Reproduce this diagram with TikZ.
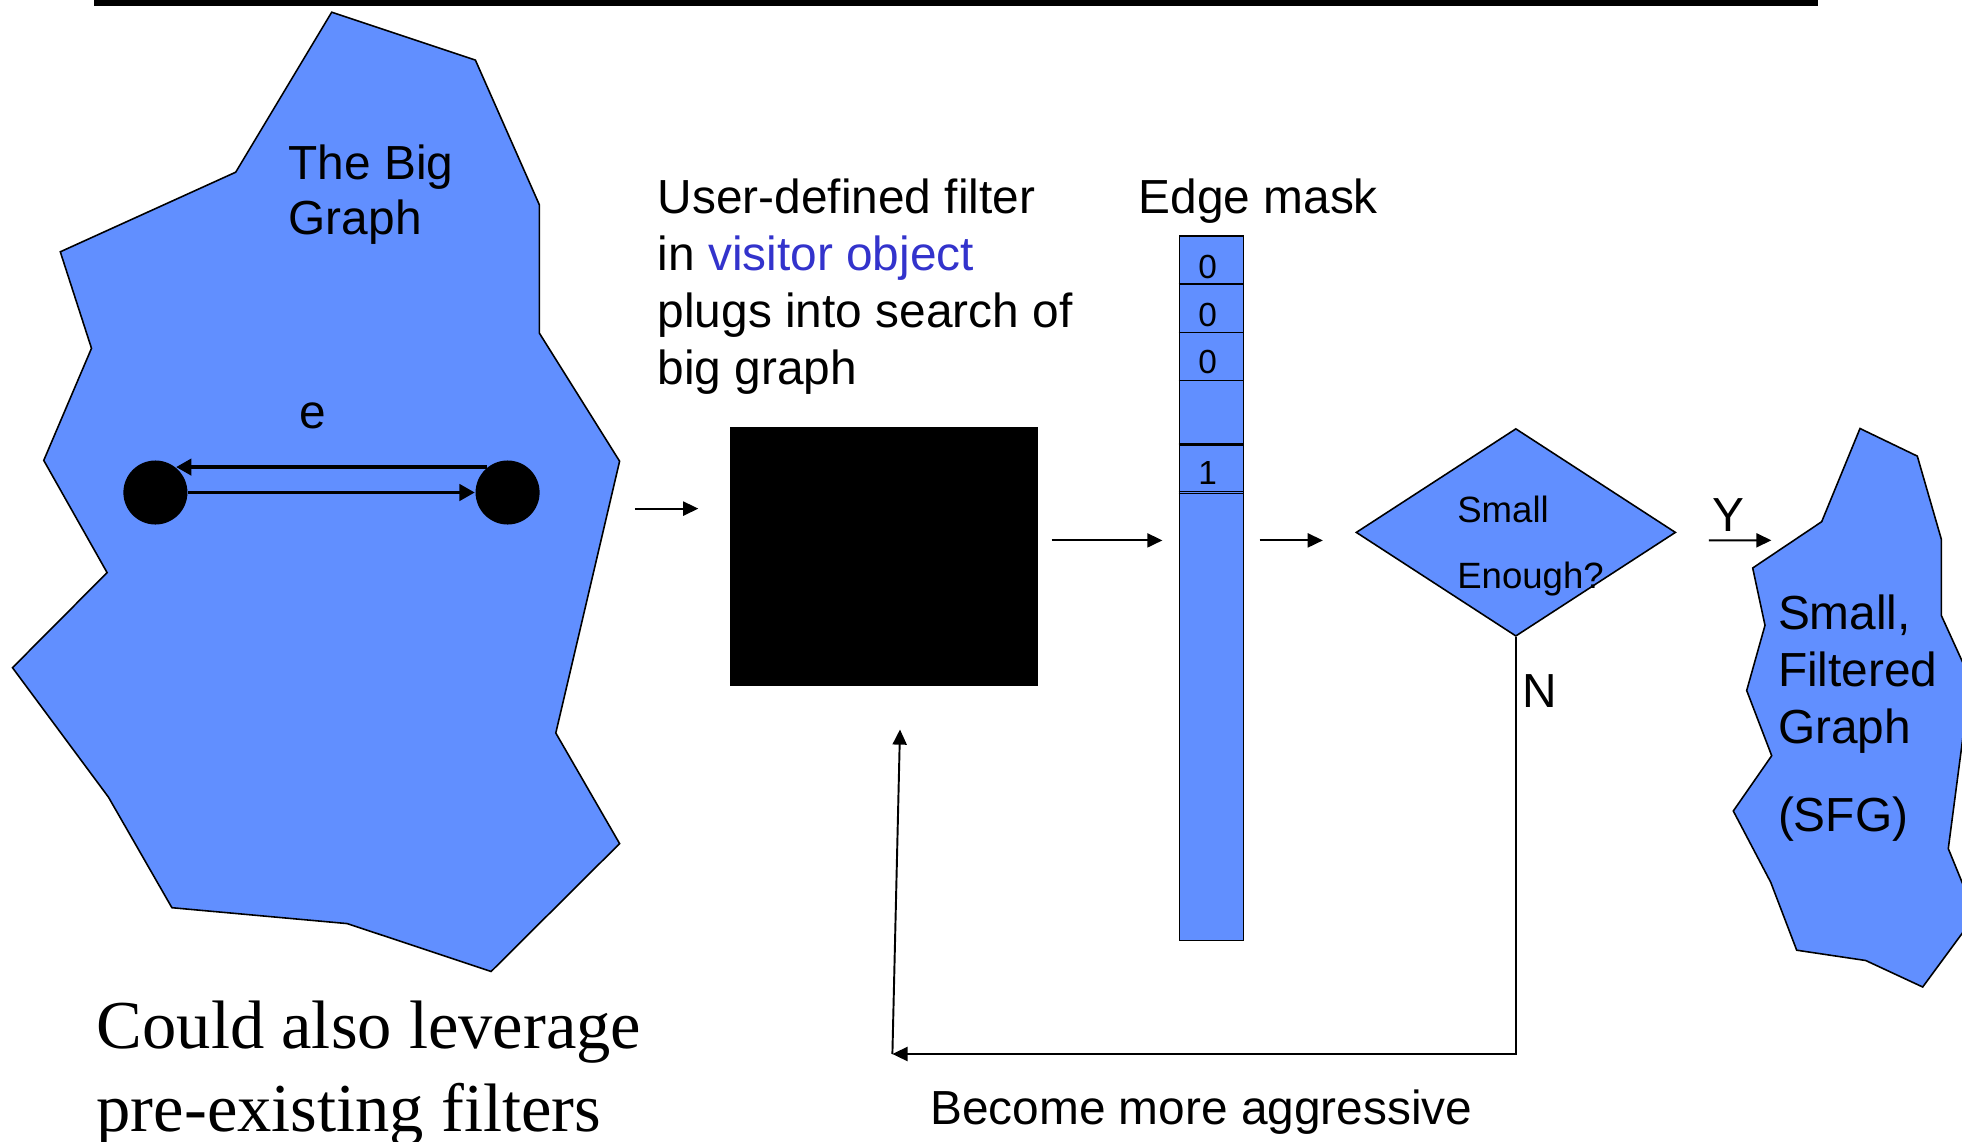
\documentclass[tikz,border=0pt]{standalone}
\usepackage{fontspec}
\setmainfont{Liberation Sans}
\newfontfamily\serifrm{Liberation Serif}
\usetikzlibrary{shapes.geometric,arrows.meta}
\definecolor{graphblue}{RGB}{97,143,255}
\definecolor{visitor}{RGB}{51,51,204}
\tikzset{
  blob/.style={fill=graphblue, draw=black, line width=0.45pt, line join=miter},
  % multi-line labels are placed by the baseline of their last line
  lbl/.style={inner sep=0pt, anchor=base west, align=left,
              font=\fontsize{13.6}{16.2}\selectfont},
  flow/.style={draw=black, line width=0.55pt, -{Triangle[length=4.3pt,width=4pt]}},
  edgearrow/.style={line width=1.1pt, -{Triangle[length=4.4pt,width=4.6pt]}},
  vertex/.style={circle, fill=black, inner sep=0pt, minimum size=0.64cm},
  cellnum/.style={inner sep=0pt, font=\fontsize{9.5}{11}\selectfont},
  divider/.style={draw=black, line width=0.4pt},
}
\begin{document}
\begin{tikzpicture}[x=0.01cm, y=-0.01cm]
\useasboundingbox (0,0) rectangle (1962,1142);
\clip (0,0) rectangle (1962,1142);

% title rule
\fill[black] (94,0) rectangle (1818,5.5);

% the big graph
\draw[blob] (331.7,12.2) -- (475.4,60.1) -- (539.3,204.7) -- (539.3,333)
  -- (619.6,461.2) -- (555.8,733) -- (619.6,843.6) -- (491.1,971.5)
  -- (347.3,923.6) -- (171.9,907.7) -- (108.5,797.2) -- (12.5,667.7)
  -- (107.1,572.6) -- (43.75,460.4) -- (91.5,348.3) -- (60.3,251.8)
  -- (235.7,172.2) -- cycle;
\node[lbl, font=\fontsize{13.6}{15.4}\selectfont] (bigtitle) at (288,234) {The Big\\Graph};
\node[inner sep=0pt, anchor=base, font=\fontsize{13.6}{16}\selectfont] (elabel) at (313,428) {e};
\node[vertex] (u) at (155.4,492.5) {};
\node[vertex] (v) at (507.6,492.5) {};
\draw[edgearrow] (v.129) -- (u.51);
\draw[edgearrow] (u.east) -- (v.west);

% filter box
\node[lbl] (filtertext) at (657,384)
  {User-defined filter\\in \textcolor{visitor}{visitor object}\\plugs into search of\\big graph};
\node[fill=black, draw=none, inner sep=0pt, minimum width=3.071cm, minimum height=2.583cm]
  (box) at (883.95,556.65) {};
\coordinate (gout) at (634.8,508.6);
\draw[flow, shorten >=8.9pt] (gout) -- (gout -| box.west);

% edge mask
\node[lbl] (masktitle) at (1138,213) {Edge mask};
\node[draw=black, fill=graphblue, line width=0.4pt, inner sep=0pt,
      minimum width=0.64cm, minimum height=7.04cm] (mask) at (1211.3,588) {};
\foreach \yy in {284,332.3,380.7,443.3,445,491.7,493.3}
  \draw[divider] (mask.west |- 0,\yy) -- (mask.east |- 0,\yy);
\node[cellnum] (m1) at (1207.7,266.7) {0};
\node[cellnum] (m2) at (1207.7,315) {0};
\node[cellnum] (m3) at (1207.7,361.7) {0};
\node[cellnum] (m5) at (1207.7,473.3) {1};

\coordinate (midline) at (0,540.4);
\draw[flow, shorten <=3.8pt, shorten >=4.6pt] (box.east |- midline) -- (mask.west |- midline);

% decision
\node[diamond, draw=black, fill=graphblue, line width=0.45pt, inner sep=0pt,
      minimum width=3.195cm, minimum height=2.076cm] (dia) at (1515.85,532.4) {};
\node[lbl, font=\fontsize{10.4}{18.9}\selectfont] (diatext) at (1456.6,588.8) {Small\\Enough?};
\draw[flow, shorten <=4.4pt, shorten >=9.2pt] (mask.east |- midline) -- (dia.west |- midline);

% yes branch
\coordinate (yend) at (1771.4,540.3);
\draw[flow, shorten <=9.2pt] (dia.east |- midline) -- (yend);
\node[lbl] (ylab) at (1711.9,531.6) {Y};

% no branch, back to the filter
\coordinate (loopc) at (892.4,1054);
\coordinate (uptip) at (900,729.5);
\draw[flow] (dia.south) |- (loopc);
\draw[flow] (loopc) -- (uptip);
\node[lbl] (nlab) at (1521.8,707.7) {N};
\node[lbl] (agg) at (929.5,1124.5) {Become more aggressive};

% small filtered graph
\draw[blob] (1860,428.5) -- (1917.3,456.1) -- (1941.3,539.1) -- (1941.3,615.4)
  -- (1970.5,679.5) -- (1948.3,848.6) -- (1975.5,915.2) -- (1922.7,987)
  -- (1865.7,960.5) -- (1796.7,950.2) -- (1770.7,882.2) -- (1733.3,811)
  -- (1771.7,755.7) -- (1746.7,690.5) -- (1765,625.3) -- (1752.7,568)
  -- (1821.7,521.7) -- cycle;
\node[lbl] (sfgtext) at (1777.3,831) {Small,\\Filtered\\Graph\\[8.8pt](SFG)};

% footnote
\node[lbl, font=\serifrm\fontsize{19.5}{23.6}\selectfont] (leverage) at (96,1131)
  {Could also leverage\\pre-existing filters};
\end{tikzpicture}
\end{document}
